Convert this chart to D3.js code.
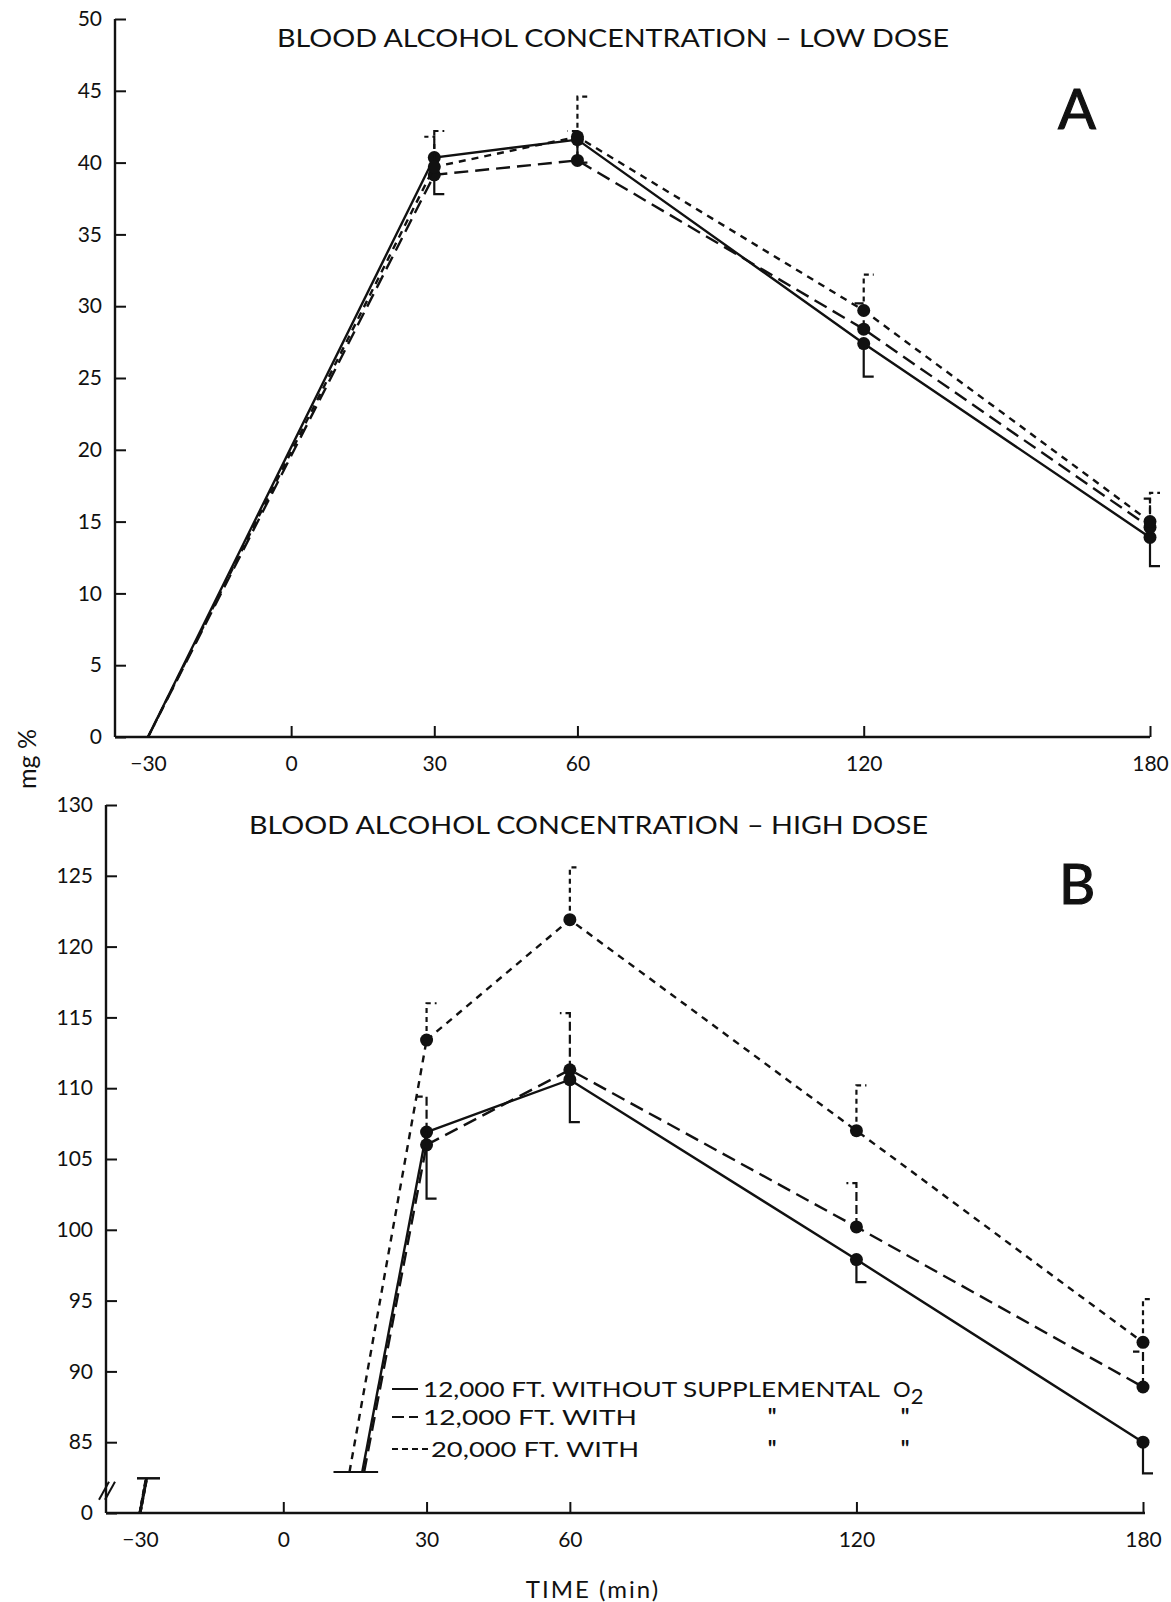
<!DOCTYPE html>
<html>
<head>
<meta charset="utf-8">
<script src="https://cdn.jsdelivr.net/npm/d3@7"></script>
<style>
  body { margin: 0; background: #fff; }
  svg text { font-family: "Lato", "DejaVu Sans", sans-serif; fill: #111; }
  .tick text { font-size: 21px; }
</style>
</head>
<body>
<script>
// time points (min)
const times = [-30, 30, 60, 120, 180];
const xTickValues = [-30, 0, 30, 60, 120, 180];
const lowTicks = [0, 5, 10, 15, 20, 25, 30, 35, 40, 45, 50];
const highTicks = [80, 85, 90, 95, 100, 105, 110, 115, 120, 125, 130];

const seriesLabels = ["12,000 FT. WITHOUT SUPPLEMENTAL", "12,000 FT. WITH", "20,000 FT. WITH"];

// panel A, low dose (mg %)
const lowSolid = [0, 40.35, 41.6, 27.4, 13.9];
const lowLong = [0, 39.15, 40.15, 28.4, 14.6];
const lowShort = [0, 39.7, 41.8, 29.7, 15.0];
// error bar ends
const lowSolidErr = [null, 37.8, 40.0, 25.1, 11.9];
const lowLongErr = [null, 42.2, 42.2, 30.2, 16.6];
const lowShortErr = [null, 41.8, 44.6, 32.2, 17.0];
const lowSolidCap = ["", "R", "R", "R", "R"];
const lowLongCap = ["", "R", "L", "L", "L"];
const lowShortCap = ["", "L", "R", "R", "R"];

// panel B, high dose (mg %)
const highSolid = [0, 106.9, 110.6, 97.9, 85.0];
const highLong = [0, 106.0, 111.3, 100.2, 88.9];
const highShort = [0, 113.4, 121.9, 107.0, 92.05];
const highSolidErr = [null, 102.2, 107.6, 96.3, 82.8];
const highLongErr = [null, 109.4, 115.3, 103.3, 91.4];
const highShortErr = [null, 116.0, 125.6, 110.2, 95.1];
const highSolidCap = ["", "R", "R", "R", "R"];
const highLongCap = ["", "L", "L", "L", "L"];
const highShortCap = ["", "R", "R", "R", "R"];

document.addEventListener("DOMContentLoaded", () => {
  const canvass = { width: 1171, height: 1602 };
  const dashes = { solid: null, long: "14,7", short: "7,6" };
  const lineW = 2.4;
  const capLen = 10;
  const breakVal = 82.9;

  const svg = d3
    .select("body")
    .append("svg")
    .attr("width", canvass.width)
    .attr("height", canvass.height);

  const panelA = {
    axisX: 115,
    x: d3.scaleLinear().domain([-30, 180]).range([148, 1150]),
    y: d3.scaleLinear().domain([0, 50]).range([737, 19]),
  };
  const panelB = {
    axisX: 106,
    x: d3.scaleLinear().domain([-30, 180]).range([140, 1143]),
    y: d3.scaleLinear().domain([80, 130]).range([1513, 805]),
  };

  const createAxes = (p, ticks, labelFn, xEnd) => {
    const base = p.y.range()[0];
    // axis lines
    svg.append("line")
      .attr("x1", p.axisX).attr("x2", p.axisX)
      .attr("y1", p.y.range()[1]).attr("y2", base)
      .attr("stroke", "#111").attr("stroke-width", 2.4);
    svg.append("line")
      .attr("x1", p.axisX).attr("x2", xEnd)
      .attr("y1", base).attr("y2", base)
      .attr("stroke", "#111").attr("stroke-width", 2.4);

    const yAxis = svg.append("g")
      .attr("transform", `translate(${p.axisX},0)`)
      .call(d3.axisLeft(p.y).tickValues(ticks).tickSize(-11).tickSizeOuter(0)
        .tickPadding(13).tickFormat(labelFn));
    yAxis.select(".domain").remove();
    yAxis.selectAll(".tick line").attr("stroke", "#111").attr("stroke-width", 2);

    const xAxis = svg.append("g")
      .attr("transform", `translate(0,${base})`)
      .call(d3.axisBottom(p.x).tickValues(xTickValues).tickSize(-11).tickSizeOuter(0)
        .tickPadding(19).tickFormat(d3.format("d")));
    xAxis.select(".domain").remove();
    xAxis.selectAll(".tick line")
      .attr("stroke", "#111").attr("stroke-width", 2)
      .attr("opacity", (d) => (d === -30 ? 0 : 1));
  };

  const createSeries = (p, values, errs, caps, dash, skipFirst) => {
    const pts = times.map((t, i) => ({ t, v: values[i], e: errs[i], c: caps[i] }));
    const line = d3.line().x((d) => p.x(d.t)).y((d) => p.y(d.v));
    const drawn = skipFirst ? pts.slice(1) : pts;
    svg.append("path")
      .attr("d", line(drawn))
      .attr("fill", "none")
      .attr("stroke", "#111")
      .attr("stroke-width", lineW)
      .attr("stroke-dasharray", dash);

    // error bars
    pts.filter((d) => d.e !== null).forEach((d) => {
      const cx = p.x(d.t);
      const ey = p.y(d.e);
      const dir = d.c === "L" ? -1 : 1;
      svg.append("path")
        .attr("d", `M${cx},${p.y(d.v)}V${ey}H${cx + dir * capLen}`)
        .attr("fill", "none")
        .attr("stroke", "#111")
        .attr("stroke-width", 2.2)
        .attr("stroke-dasharray", dash === null ? null : dash === dashes.long ? "9,4" : "5,4");
    });

    svg.append("g")
      .selectAll("circle")
      .data(pts.filter((d) => d.t > -30))
      .enter()
      .append("circle")
      .attr("cx", (d) => p.x(d.t))
      .attr("cy", (d) => p.y(d.v))
      .attr("r", 6.5)
      .attr("fill", "#111");
  };

  // rising segment of panel B, cut at the axis break
  const createBrokenRise = (p, list) => {
    const crossings = [];
    const stubTop = 82.45;
    list.forEach(({ values, dash }) => {
      const v30 = values[1];
      const tc = -30 + (60 * breakVal) / v30;
      crossings.push(tc);
      const x0 = p.x(tc), y0 = p.y(breakVal);
      const x1 = p.x(30), y1 = p.y(v30);
      svg.append("line")
        .attr("x1", x0).attr("y1", y0).attr("x2", x1).attr("y2", y1)
        .attr("stroke", "#111").attr("stroke-width", lineW)
        .attr("stroke-dasharray", dash);
      // small stub rising from -30 at zero
      const slope = (x1 - x0) / (y0 - y1);
      const sy0 = p.y(80), sy1 = p.y(stubTop);
      svg.append("line")
        .attr("x1", p.x(-30)).attr("y1", sy0)
        .attr("x2", p.x(-30) + slope * (sy0 - sy1)).attr("y2", sy1)
        .attr("stroke", "#111").attr("stroke-width", 3)
        .attr("stroke-dasharray", dash === null ? null : "6,3");
    });
    svg.append("line")
      .attr("x1", p.x(d3.min(crossings)) - 16).attr("x2", p.x(d3.max(crossings)) + 14)
      .attr("y1", p.y(breakVal)).attr("y2", p.y(breakVal))
      .attr("stroke", "#111").attr("stroke-width", 2);
    svg.append("line")
      .attr("x1", p.x(-30) - 3).attr("x2", p.x(-30) + 20)
      .attr("y1", p.y(stubTop)).attr("y2", p.y(stubTop))
      .attr("stroke", "#111").attr("stroke-width", 2.5);

    // break marks on the y-axis
    [0, 6].forEach((off) => {
      svg.append("line")
        .attr("x1", p.axisX - 7 + off).attr("y1", p.y(81.5) + 8)
        .attr("x2", p.axisX + 3 + off).attr("y2", p.y(81.5) - 10)
        .attr("stroke", "#111").attr("stroke-width", 2);
    });
  };

  const createLegend = () => {
    const g = svg.append("g");
    const rows = [
      { y: 1389, dash: null, x2: 418, tx: 423 },
      { y: 1417, dash: "12,5", x2: 418, tx: 423 },
      { y: 1449, dash: "6,4", x2: 428, tx: 431 },
    ];
    const widths = [457, 214, 208];
    rows.forEach((r, i) => {
      g.append("line")
        .attr("x1", 392).attr("x2", r.x2).attr("y1", r.y).attr("y2", r.y)
        .attr("stroke", "#111").attr("stroke-width", 2)
        .attr("stroke-dasharray", r.dash);
      g.append("text")
        .attr("x", r.tx).attr("y", r.y + 8)
        .attr("font-size", 21)
        .attr("textLength", widths[i])
        .attr("lengthAdjust", "spacingAndGlyphs")
        .text(seriesLabels[i]);
      if (i > 0) {
        [772, 905].forEach((dx) => {
          g.append("text").attr("x", dx).attr("y", r.y + 8)
            .attr("font-size", 22).attr("font-weight", "bold")
            .attr("text-anchor", "middle").text('"');
        });
      }
    });
    const o2 = g.append("text").attr("x", 893).attr("y", 1397).attr("font-size", 22);
    o2.append("tspan").text("O");
    o2.append("tspan").attr("dy", 7).attr("font-size", 22).text("2");
  };

  const createTexts = () => {
    svg.append("text")
      .attr("x", 277).attr("y", 47)
      .attr("font-size", 25)
      .attr("textLength", 672).attr("lengthAdjust", "spacingAndGlyphs")
      .text("BLOOD ALCOHOL CONCENTRATION \u2013 LOW DOSE");
    svg.append("text")
      .attr("x", 249).attr("y", 834)
      .attr("font-size", 25)
      .attr("textLength", 679).attr("lengthAdjust", "spacingAndGlyphs")
      .text("BLOOD ALCOHOL CONCENTRATION \u2013 HIGH DOSE");
    svg.append("text")
      .attr("x", 1077).attr("y", 129)
      .attr("font-size", 56).attr("text-anchor", "middle")
      .attr("stroke", "#111").attr("stroke-width", 1.2)
      .text("A");
    svg.append("text")
      .attr("x", 1077).attr("y", 904)
      .attr("font-size", 56).attr("text-anchor", "middle")
      .attr("stroke", "#111").attr("stroke-width", 1.2)
      .text("B");
    svg.append("text")
      .attr("transform", "translate(36,759) rotate(-90)")
      .attr("font-size", 25).attr("text-anchor", "middle")
      .text("mg %");
    svg.append("text")
      .attr("x", 593).attr("y", 1598)
      .attr("font-size", 24).attr("text-anchor", "middle")
      .attr("letter-spacing", 2)
      .text("TIME (min)");
  };

  createAxes(panelA, lowTicks, d3.format("d"), 1150);
  createAxes(panelB, highTicks, (d) => (d === 80 ? "0" : d), 1145);

  createSeries(panelA, lowSolid, lowSolidErr, lowSolidCap, dashes.solid, false);
  createSeries(panelA, lowLong, lowLongErr, lowLongCap, dashes.long, false);
  createSeries(panelA, lowShort, lowShortErr, lowShortCap, dashes.short, false);

  createSeries(panelB, highSolid, highSolidErr, highSolidCap, dashes.solid, true);
  createSeries(panelB, highLong, highLongErr, highLongCap, dashes.long, true);
  createSeries(panelB, highShort, highShortErr, highShortCap, dashes.short, true);
  createBrokenRise(panelB, [
    { values: highSolid, dash: dashes.solid },
    { values: highLong, dash: dashes.long },
    { values: highShort, dash: dashes.short },
  ]);

  createLegend();
  createTexts();
});
</script>
</body>
</html>
